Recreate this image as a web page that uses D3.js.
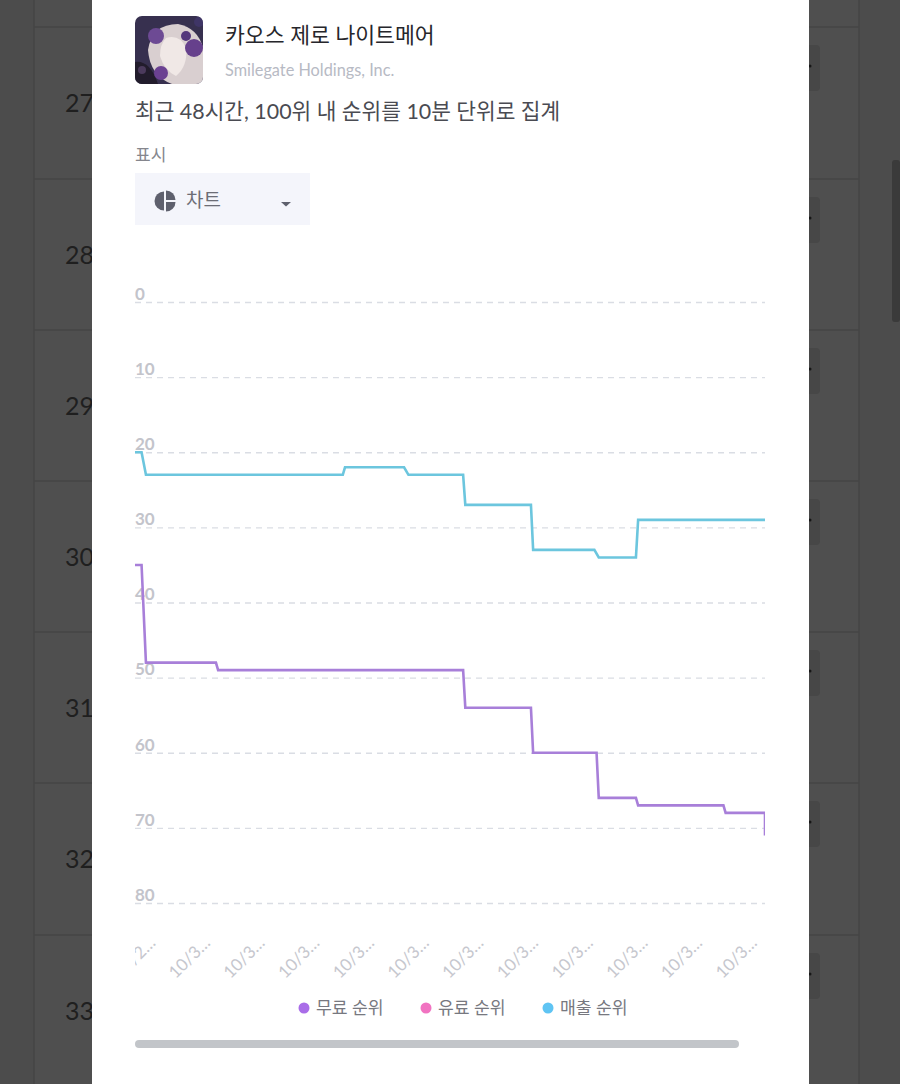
<!DOCTYPE html>
<html>
<head>
<meta charset="utf-8">
<script src="https://cdn.jsdelivr.net/npm/d3@7"></script>
<style>
  html, body { margin: 0; padding: 0; background: #4e4e4e; overflow: hidden; }
  text { font-family: Lato, "Noto Sans CJK KR", sans-serif; }
</style>
</head>
<body>
<div class="chart"></div>
<script>
// values. x is the 10 minute slot, y is the rank
const revenueSlots = [0, 3, 5, 95, 96, 123, 125, 150, 151, 181, 182, 210, 212, 229, 230, 288]
const revenueRanks = [20, 20, 23, 23, 22, 22, 23, 23, 27, 27, 33, 33, 34, 34, 29, 29]

const freeSlots = [0, 3, 5, 37, 38, 150, 151, 181, 182, 211, 212, 229, 230, 269, 270, 288, 288]
const freeRanks = [35, 35, 48, 48, 49, 49, 54, 54, 60, 60, 66, 66, 67, 67, 68, 68, 71]

const rankTicks = [0, 10, 20, 30, 40, 50, 60, 70, 80]
const timeTicks = [0, 25, 50, 75, 100, 125, 150, 175, 200, 225, 250, 275]
const timeLabels = ["10/2…", "10/3…", "10/3…", "10/3…", "10/3…", "10/3…", "10/3…", "10/3…", "10/3…", "10/3…", "10/3…", "10/3…"]

const legendNames = ["무료 순위", "유료 순위", "매출 순위"]
const legendColors = ["#a96de8", "#f173c1", "#5fc4f3"]

// rows of the table behind the dialog
const rowNumbers = [27, 28, 29, 30, 31, 32, 33]
const rowLines = [27, 179, 330, 481, 632, 783, 935]
const rowMiddles = [103, 255, 406, 557, 708, 859, 1011]

const w = 900
const h = 1084

const svg = d3.select(".chart")
  .append("svg")
  .attr("width", w)
  .attr("height", h)
  .style("display", "block")

// dimmed page
svg.append("rect").attr("width", w).attr("height", h).attr("fill", "#4c4c4c")
svg.append("rect").attr("x", 34).attr("width", 825).attr("height", h).attr("fill", "#4f4f4f")
svg.selectAll(".vline").data([34, 859]).enter().append("line")
  .attr("x1", d => d).attr("x2", d => d).attr("y1", 0).attr("y2", h)
  .attr("stroke", "#454545").attr("stroke-width", 1.5)
svg.selectAll(".rowline").data(rowLines).enter().append("line")
  .attr("x1", 34).attr("x2", 859).attr("y1", d => d).attr("y2", d => d)
  .attr("stroke", "#454545").attr("stroke-width", 1.5)
svg.selectAll(".rownum").data(rowNumbers).enter().append("text")
  .attr("x", 65).attr("y", (d, i) => rowMiddles[i] + 9)
  .attr("font-size", 25).attr("fill", "#1f1f1f")
  .text(d => d)
svg.selectAll(".rowbtn").data(rowMiddles).enter().append("rect")
  .attr("x", 795).attr("y", d => d - 58).attr("width", 25).attr("height", 46).attr("rx", 4)
  .attr("fill", "#474747")
svg.selectAll(".rowdot").data(rowMiddles).enter().append("circle")
  .attr("cx", 810).attr("cy", d => d - 37).attr("r", 1.5)
  .attr("fill", "#161616")
svg.append("rect").attr("x", 892).attr("y", 160).attr("width", 8).attr("height", 162).attr("rx", 3).attr("fill", "#3a3a3a")

// dialog
svg.append("rect").attr("x", 92).attr("width", 717).attr("height", h).attr("fill", "#fff")

// app icon
const defs = svg.append("defs")
defs.append("clipPath").attr("id", "iconClip")
  .append("rect").attr("x", 135).attr("y", 16).attr("width", 68).attr("height", 68).attr("rx", 7)
defs.append("clipPath").attr("id", "plotClip")
  .append("rect").attr("x", 135).attr("y", 280).attr("width", 630).attr("height", 710)

const icon = svg.append("g").attr("clip-path", "url(#iconClip)")
icon.append("rect").attr("x", 135).attr("y", 16).attr("width", 68).attr("height", 68).attr("fill", "#37304f")
icon.append("path").attr("d", "M148 50 Q152 24 178 24 Q198 28 203 48 L203 84 L172 84 Q150 76 148 50Z").attr("fill", "#d9cfd0")
icon.append("path").attr("d", "M166 38 Q180 34 186 48 Q188 66 176 76 Q164 70 160 56 Q160 44 166 38Z").attr("fill", "#f0e8e6")
icon.append("path").attr("d", "M135 62 Q150 60 158 84 L135 84Z").attr("fill", "#221c2c")
const roses = [[156, 36, 8, "#6d4a94"], [194, 48, 9, "#66408c"], [161, 73, 7, "#6b4192"], [186, 36, 5, "#54387c"], [142, 70, 4, "#4b3a5c"], [199, 22, 5, "#3f3566"]]
icon.selectAll("circle").data(roses).enter().append("circle")
  .attr("cx", d => d[0]).attr("cy", d => d[1]).attr("r", d => d[2]).attr("fill", d => d[3])

// header text
svg.append("text").attr("x", 225).attr("y", 43).attr("font-size", 21.6).attr("fill", "#26262b").text("카오스 제로 나이트메어")
svg.append("text").attr("x", 225).attr("y", 76).attr("font-size", 16.3).attr("fill", "#b7bac4").text("Smilegate Holdings, Inc.")
svg.append("text").attr("x", 135).attr("y", 119).attr("font-size", 21.4).attr("fill", "#4a4b52").text("최근 48시간, 100위 내 순위를 10분 단위로 집계")
svg.append("text").attr("x", 135).attr("y", 161).attr("font-size", 17).attr("fill", "#85868d").text("표시")

// dropdown
svg.append("rect").attr("x", 135).attr("y", 173).attr("width", 175).attr("height", 52).attr("fill", "#f4f5fb")
const pie = d3.arc().innerRadius(0).outerRadius(9.5)
const pieG = svg.append("g").attr("transform", "translate(165,201)")
pieG.append("path").attr("d", pie({ startAngle: Math.PI, endAngle: 2 * Math.PI })).attr("transform", "translate(-1,0)").attr("fill", "#5e606d")
pieG.append("path").attr("d", pie({ startAngle: 0, endAngle: Math.PI / 2 })).attr("transform", "translate(1,-1)").attr("fill", "#5e606d")
pieG.append("path").attr("d", pie({ startAngle: Math.PI / 2, endAngle: Math.PI })).attr("transform", "translate(1,1)").attr("fill", "#5e606d")
svg.append("text").attr("x", 186).attr("y", 207).attr("font-size", 19).attr("fill", "#6c6d76").text("차트")
svg.append("path").attr("d", "M281 202 L291 202 L286 206.5Z").attr("fill", "#5e606d")

// scales
const xScale = d3.scaleLinear().domain([0, 288]).range([135, 765])
const yScale = d3.scaleLinear().domain([0, 80]).range([302, 903])

// y axis, labels sit on top of the dashed grid lines
const yAxis = d3.axisLeft(yScale)
  .tickValues(rankTicks)
  .tickSize(-630)
  .tickPadding(0)
const yG = svg.append("g")
  .attr("transform", "translate(135,0)")
  .call(yAxis)
yG.select(".domain").remove()
yG.selectAll(".tick line")
  .attr("stroke", "#dadde4")
  .attr("stroke-width", 1.3)
  .attr("stroke-dasharray", "6 5")
yG.selectAll(".tick text")
  .attr("text-anchor", "start")
  .attr("x", 0)
  .attr("dy", "-0.16em")
  .attr("font-size", 17)
  .attr("font-weight", 700)
  .attr("font-family", "Lato, sans-serif")
  .attr("fill", "#c3c4cb")

// x axis
const xAxis = d3.axisBottom(xScale)
  .tickValues(timeTicks)
  .tickSize(0)
  .tickFormat((t, i) => timeLabels[i])
const xG = svg.append("g")
  .attr("transform", "translate(0,930)")
  .attr("clip-path", "url(#xClip)")
defs.append("clipPath").attr("id", "xClip")
  .append("rect").attr("x", 135).attr("y", -10).attr("width", 640).attr("height", 70)
xG.call(xAxis)
xG.select(".domain").remove()
xG.selectAll(".tick text")
  .attr("text-anchor", "end")
  .attr("dy", 0)
  .attr("y", 0)
  .attr("transform", "translate(21,14) rotate(-45)")
  .attr("font-size", 17)
  .attr("font-family", "Lato, sans-serif")
  .attr("fill", "#c6c7ce")

// lines
const line = d3.line()
  .x(d => xScale(d[0]))
  .y(d => yScale(d[1]))

const plot = svg.append("g").attr("clip-path", "url(#plotClip)")
plot.append("path")
  .datum(d3.zip(revenueSlots, revenueRanks))
  .attr("d", line)
  .attr("fill", "none")
  .attr("stroke", "#6cc6de")
  .attr("stroke-width", 2.6)
plot.append("path")
  .datum(d3.zip(freeSlots, freeRanks))
  .attr("d", line)
  .attr("fill", "none")
  .attr("stroke", "#a87fd9")
  .attr("stroke-width", 2.6)

// legend
const legend = svg.selectAll(".legend").data(legendNames).enter().append("g")
  .attr("class", "legend")
  .attr("transform", (d, i) => "translate(" + (304 + i * 122) + ",1008)")
legend.append("circle").attr("r", 5.5).attr("fill", (d, i) => legendColors[i])
legend.append("text")
  .attr("x", 12).attr("y", 5.5)
  .attr("font-size", 17.2)
  .attr("fill", "#77787f")
  .text(d => d)

// scroll bar under the chart
svg.append("rect").attr("x", 135).attr("y", 1040).attr("width", 604).attr("height", 8).attr("rx", 4).attr("fill", "#c2c5c9")
</script>
</body>
</html>
